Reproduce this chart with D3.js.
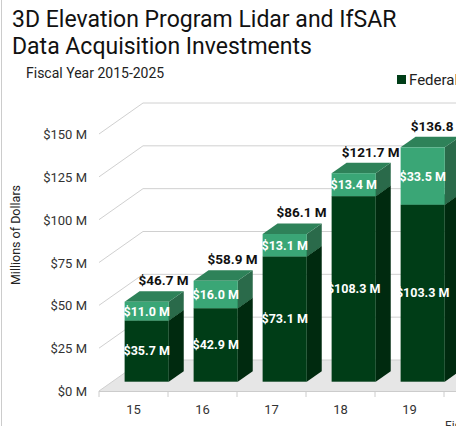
<!DOCTYPE html>
<html><head><meta charset="utf-8">
<script src="https://cdn.jsdelivr.net/npm/d3@7"></script>
<style>body{margin:0;background:#fff;font-family:Roboto,"Noto Sans",sans-serif}</style>
</head><body><div id="chart"></div>
<script>
const years = ["15", "16", "17", "18", "19"];
const federal = [35.7, 42.9, 73.1, 108.3, 103.3];
const partner = [11.0, 16.0, 13.1, 13.4, 33.5];
const totalLabels = ["$46.7 M", "$58.9 M", "$86.1 M", "$121.7 M", "$136.8 M"];
const yTicks = [0, 25, 50, 75, 100, 125, 150];

const W = 456, H = 426;
const DX = 44, DY = -31;         // full depth of the 3D box
const F0 = 0.3, F1 = 0.64;       // bar depth range (fractions)

const svg = d3.select("#chart").append("svg").attr("width", W).attr("height", H);

svg.append("rect").attr("x", 1.5).attr("y", -2).attr("width", W).attr("height", H + 4)
  .attr("fill", "none").attr("stroke", "#ccc");

svg.append("text").attr("x", 12).attr("y", 27).attr("font-size", 23).attr("fill", "#111")
  .text("3D Elevation Program Lidar and IfSAR");
svg.append("text").attr("x", 12).attr("y", 54).attr("font-size", 23).attr("fill", "#111")
  .text("Data Acquisition Investments");
svg.append("text").attr("x", 26).attr("y", 78).attr("font-size", 14).attr("fill", "#222")
  .text("Fiscal Year 2015-2025");

svg.append("rect").attr("x", 397).attr("y", 75).attr("width", 9).attr("height", 9).attr("fill", "#003d17");
svg.append("text").attr("x", 409).attr("y", 85).attr("font-size", 15).attr("fill", "#222").text("Federal");

const x = d3.scaleBand().domain(years.concat(["20"])).range([99, 513]).paddingInner(0.36).paddingOuter(0.18);
const y = d3.scaleLinear().domain([0, 150]).range([391, 134]);
const x0 = 99;

// floor
svg.append("polygon")
  .attr("points", [[x0, 391], [x0 + DX, 391 + DY], [W, 391 + DY], [W, 391]].join(" "))
  .attr("fill", "#e6e6e6");

// gridlines
yTicks.forEach(t => {
  svg.append("polyline")
    .attr("points", [[x0, y(t)], [x0 + DX, y(t) + DY], [W, y(t) + DY]].join(" "))
    .attr("fill", "none").attr("stroke", "#d0d0d0");
  svg.append("text").attr("x", 87).attr("y", y(t) + 5).attr("text-anchor", "end")
    .attr("font-size", 13).attr("fill", "#333").text(`$${t} M`);
});

svg.append("line").attr("x1", x0).attr("x2", W).attr("y1", 391.5).attr("y2", 391.5).attr("stroke", "#ccc");
const step = x.step();
for (let i = 0; i < 6; i++) {
  svg.append("line").attr("x1", x0 + i * step).attr("x2", x0 + i * step).attr("y1", 391).attr("y2", 397).attr("stroke", "#ccc");
}
years.forEach((yr, i) => {
  svg.append("text").attr("x", x0 + (i + 0.5) * step).attr("y", 414).attr("text-anchor", "middle")
    .attr("font-size", 13).attr("fill", "#333").text(yr);
});
svg.append("text").attr("x", 445).attr("y", 430).attr("font-size", 12).attr("fill", "#333").text("Fiscal Year");

svg.append("text").attr("transform", "translate(20,235) rotate(-90)").attr("text-anchor", "middle")
  .attr("font-size", 12.5).attr("fill", "#222").text("Millions of Dollars");

function box(g, xl, w, v0, v1, front, side, top) {
  const ox = F0 * DX, oy = F0 * DY, dx = (F1 - F0) * DX, dy = (F1 - F0) * DY;
  const l = xl + ox, r = l + w, b = y(v0) + oy, t = y(v1) + oy;
  g.append("polygon").attr("points", [[r, b], [r + dx, b + dy], [r + dx, t + dy], [r, t]].join(" ")).attr("fill", side);
  g.append("polygon").attr("points", [[l, t], [l + dx, t + dy], [r + dx, t + dy], [r, t]].join(" ")).attr("fill", top);
  g.append("rect").attr("x", l).attr("y", t).attr("width", w).attr("height", b - t).attr("fill", front);
  return { cx: l + w / 2, cy: (t + b) / 2, top: t + dy, backCx: l + dx + w / 2 };
}

years.forEach((yr, i) => {
  const g = svg.append("g");
  const xl = x(yr);
  const w = x.bandwidth();
  const a = box(g, xl, w, 0, federal[i], "#003d17", "#002a0f", "#003d17");
  const b = box(g, xl, w, federal[i], federal[i] + partner[i], "#3aa676", "#2a6a4a", "#2e8259");
  g.append("text").attr("x", a.cx).attr("y", a.cy + 4).attr("text-anchor", "middle")
    .attr("font-size", 12.5).attr("font-weight", "bold").attr("fill", "#fff").text(`$${federal[i].toFixed(1)} M`);
  g.append("text").attr("x", b.cx).attr("y", b.cy + 4.5).attr("text-anchor", "middle")
    .attr("font-size", 12.5).attr("font-weight", "bold").attr("fill", "#fff").text(`$${partner[i].toFixed(1)} M`);
  g.append("text").attr("x", b.backCx + 2).attr("y", b.top - 6).attr("text-anchor", "middle")
    .attr("font-size", 13.5).attr("font-weight", "bold").attr("fill", "#111").text(totalLabels[i]);
});
</script></body></html>
